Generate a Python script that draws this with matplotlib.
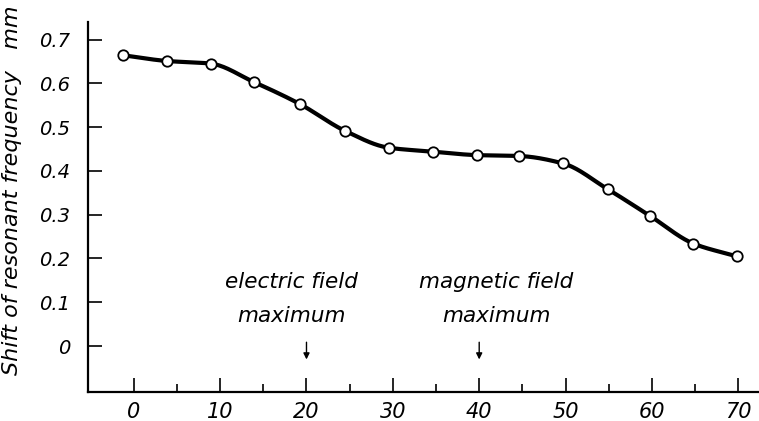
import numpy as np
import matplotlib
matplotlib.use("Agg")
import matplotlib.pyplot as plt

# ---- data ----
position = [-1.2, 3.8, 8.9, 13.9, 19.2, 24.5, 29.5, 34.6, 39.7, 44.6, 49.7, 54.9, 59.8, 64.8, 69.8]
shift_mm = [0.664, 0.651, 0.645, 0.603, 0.553, 0.491, 0.453, 0.444, 0.436, 0.434, 0.417, 0.358, 0.297, 0.234, 0.205]
x_ticks = [0, 10, 20, 30, 40, 50, 60, 70]
x_ticklabels = ["0", "10", "20", "30", "40", "50", "60", "70"]
y_ticks = [0, 0.1, 0.2, 0.3, 0.4, 0.5, 0.6, 0.7]
y_ticklabels = ["0", "0.1", "0.2", "0.3", "0.4", "0.5", "0.6", "0.7"]
# (text, arrow position, text centre)
annotations = [("electric field\nmaximum", 20, 18.3), ("magnetic field\nmaximum", 40, 42.0)]

FONT = ["DejaVu Sans"]
plt.rcParams["font.family"] = FONT
plt.rcParams["font.style"] = "italic"


def pchip(x, y, n=30):
    """Monotone cubic (Fritsch-Carlson) smoothing through the points."""
    x = np.asarray(x, float)
    y = np.asarray(y, float)
    h = np.diff(x)
    d = np.diff(y) / h
    m = np.zeros_like(y)
    for k in range(1, len(x) - 1):
        if d[k - 1] * d[k] <= 0:
            m[k] = 0.0
        else:
            w1 = 2 * h[k] + h[k - 1]
            w2 = h[k] + 2 * h[k - 1]
            m[k] = (w1 + w2) / (w1 / d[k - 1] + w2 / d[k])
    m[0] = d[0]
    m[-1] = d[-1]
    xs, ys = [], []
    for k in range(len(x) - 1):
        t = np.linspace(0, 1, n, endpoint=False)
        h00 = 2 * t ** 3 - 3 * t ** 2 + 1
        h10 = t ** 3 - 2 * t ** 2 + t
        h01 = -2 * t ** 3 + 3 * t ** 2
        h11 = t ** 3 - t ** 2
        xs.append(x[k] + t * h[k])
        ys.append(h00 * y[k] + h10 * h[k] * m[k] + h01 * y[k + 1] + h11 * h[k] * m[k + 1])
    xs.append([x[-1]])
    ys.append([y[-1]])
    return np.concatenate(xs), np.concatenate(ys)


fig = plt.figure(figsize=(7.59, 4.21), dpi=100)
ax = fig.add_axes([88 / 759, 29 / 421, 1 - 88 / 759, (392 - 22) / 421])

sx, sy = pchip(position, shift_mm)
ax.plot(sx, sy, color="black", lw=3.0, solid_capstyle="round", zorder=2)
ax.plot(position, shift_mm, linestyle="none", marker="o", ms=7.5,
        mfc="white", mec="black", mew=1.3, zorder=3)

ax.set_xlim(-5.3, 72.4)
ax.set_ylim(-0.105, 0.74)

for s in ["top", "right"]:
    ax.spines[s].set_visible(False)
for s in ["left", "bottom"]:
    ax.spines[s].set_linewidth(1.6)

ax.set_xticks(x_ticks)
ax.set_xticklabels(x_ticklabels, fontsize=15, fontstyle="italic")
ax.set_xticks(np.arange(5, 70, 10), minor=True)
ax.set_yticks(y_ticks)
ax.set_yticklabels(y_ticklabels, fontsize=14, fontstyle="italic")

ax.tick_params(axis="x", which="major", direction="in", length=10, width=1.2, pad=7)
ax.tick_params(axis="x", which="minor", direction="in", length=6, width=1.2)
ax.tick_params(axis="y", which="major", direction="in", length=10, width=1.2, pad=13)

ax.set_ylabel("Shift of resonant frequency   mm", fontsize=16, fontstyle="italic")
ax.yaxis.set_label_coords(-0.098, 0.546)

for text, xv, xt in annotations:
    ax.text(xt, 0.168, text, ha="center", va="top", fontsize=15.5,
            fontstyle="italic", linespacing=1.85)
    ax.annotate("", xy=(xv, -0.037), xytext=(xv, 0.015),
                arrowprops=dict(arrowstyle="-|>", color="black", lw=1.0,
                                mutation_scale=9))

fig.savefig("out.png", dpi=100)
